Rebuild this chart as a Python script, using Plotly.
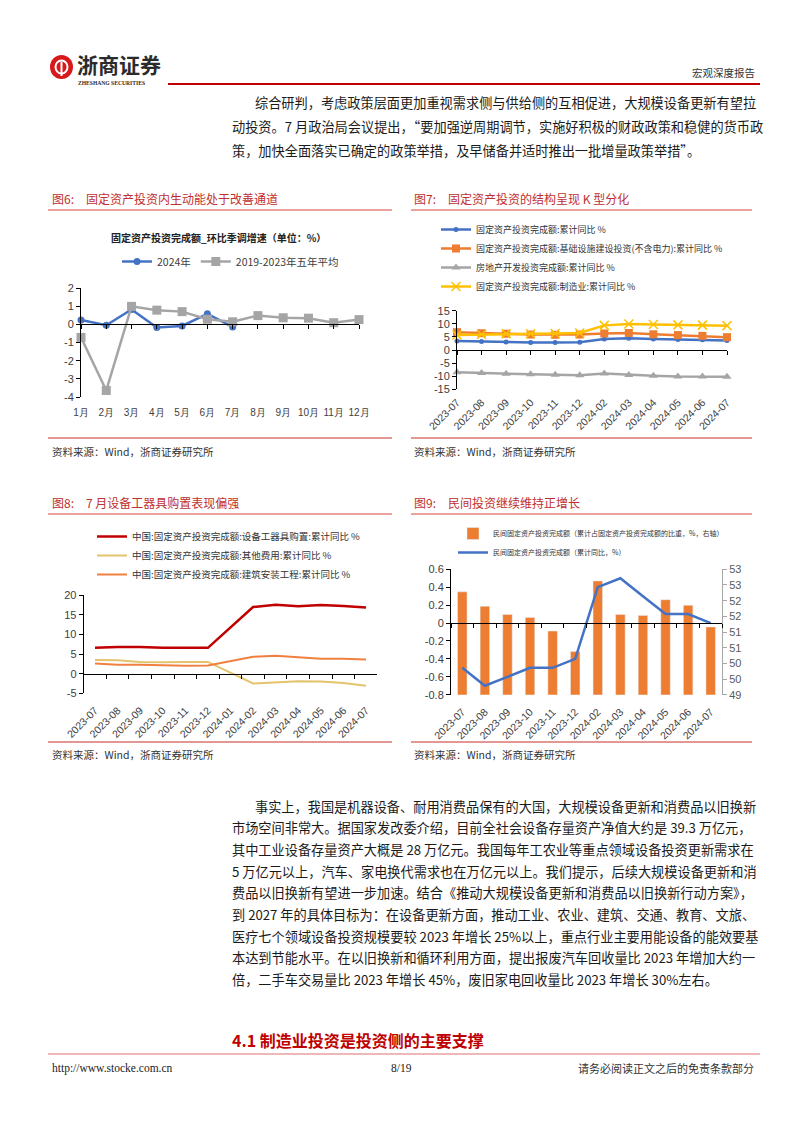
import plotly.graph_objects as go

W, H = 802, 1133
def fx(p): return p / W
def fy(p): return 1 - p / H

CN = "Noto Sans CJK SC"
NUM = "Liberation Sans, Arial, sans-serif"
SERIF = "Liberation Serif, serif"

# ---------------- data ----------------
months = ['1月', '2月', '3月', '4月', '5月', '6月', '7月', '8月', '9月', '10月', '11月', '12月']
fai_2024 = [0.24, -0.05, 0.82, -0.17, -0.09, 0.58, -0.14]
fai_avg5 = [-0.72, -3.64, 0.99, 0.78, 0.70, 0.28, 0.14, 0.48, 0.36, 0.34, 0.09, 0.26]
c6_yticks = [-4, -3, -2, -1, 0, 1, 2]

c7_dates = ['2023-07', '2023-08', '2023-09', '2023-10', '2023-11', '2023-12',
            '2024-02', '2024-03', '2024-04', '2024-05', '2024-06', '2024-07']
fai_total = [3.4, 3.2, 3.1, 2.9, 2.9, 3.0, 4.2, 4.5, 4.2, 4.0, 3.9, 3.6]
fai_infra = [6.8, 6.4, 6.2, 5.9, 5.8, 5.9, 6.3, 6.5, 6.0, 5.7, 5.4, 4.9]
fai_realestate = [-8.5, -8.8, -9.1, -9.3, -9.4, -9.6, -9.0, -9.5, -9.8, -10.1, -10.1, -10.2]
fai_manuf = [5.7, 5.9, 6.2, 6.2, 6.3, 6.5, 9.4, 9.9, 9.7, 9.6, 9.5, 9.3]
c7_yticks = [-15, -10, -5, 0, 5, 10, 15]

c8_dates = ['2023-07', '2023-08', '2023-09', '2023-10', '2023-11', '2023-12', '2024-01',
            '2024-02', '2024-03', '2024-04', '2024-05', '2024-06', '2024-07']
equip = [6.6, 6.8, 6.8, 6.6, 6.6, 6.6, None, 17.0, 17.6, 17.2, 17.5, 17.3, 16.9]
other_cost = [3.5, 3.4, 3.0, 2.9, 3.0, 3.0, None, -2.5, -2.2, -1.9, -2.0, -2.4, -3.1]
construct = [2.6, 2.3, 2.3, 2.1, 2.0, 2.1, None, 4.3, 4.6, 4.2, 3.8, 3.8, 3.6]
c8_yticks = [-5, 0, 5, 10, 15, 20]

c9_dates = c7_dates
private_share = [52.28, 51.82, 51.56, 51.46, 51.03, 50.38, 52.63, 51.56, 51.53, 52.03, 51.85, 51.16]
private_yoy = [-0.5, -0.7, -0.6, -0.5, -0.5, -0.4, 0.4, 0.5, 0.3, 0.1, 0.1, 0.0]
c9_yticks_left = [-0.8, -0.6, -0.4, -0.2, 0, 0.2, 0.4, 0.6]

def labels(vals):
    return [f"{round(v, 1):g}" for v in vals]

# ---------------- geometry ----------------
def zero_pos(ydom, yr):
    return ydom[0] + (0 - yr[0]) / (yr[1] - yr[0]) * (ydom[1] - ydom[0])

c6_xdom = [fx(81), fx(359)];   c6_ydom = [fy(397), fy(288)];   c6_yr = [-4, 2]
c7_xdom = [fx(457), fx(727)];  c7_ydom = [fy(389.3), fy(310.7)]; c7_yr = [-15, 15]
c8_xdom = [fx(83.7), fx(377.3)]; c8_ydom = [fy(693.3), fy(595.3)]; c8_yr = [-5, 20]
c9_xdom = [fx(451), fx(722)];  c9_ydom = [fy(694.7), fy(569.3)]; c9_yl = [-0.8, 0.6]; c9_yr = [49, 53]

fig = go.Figure()

# chart 6
fig.add_trace(go.Scatter(x=months[:len(fai_2024)], y=fai_2024, name='2024年', mode='lines+markers', cliponaxis=False,
                         line=dict(color='#4472C4', width=2.5), marker=dict(symbol='circle', size=7, color='#4472C4'),
                         xaxis='x', yaxis='y', legend='legend'))
fig.add_trace(go.Scatter(x=months, y=fai_avg5, name='2019-2023年五年平均', mode='lines+markers', cliponaxis=False,
                         line=dict(color='#A5A5A5', width=2.5), marker=dict(symbol='square', size=9, color='#A5A5A5'),
                         xaxis='x', yaxis='y', legend='legend'))
fig.add_trace(go.Scatter(x=months, y=[None] * len(months), xaxis='x2', yaxis='y', showlegend=False, hoverinfo='skip'))

# chart 7
fig.add_trace(go.Scatter(x=c7_dates, y=fai_total, name='固定资产投资完成额:累计同比 %', mode='lines+markers', cliponaxis=False,
                         line=dict(color='#4472C4', width=2.5), marker=dict(symbol='circle', size=5, color='#4472C4'),
                         xaxis='x3', yaxis='y3', legend='legend2'))
fig.add_trace(go.Scatter(x=c7_dates, y=fai_infra, name='固定资产投资完成额:基础设施建设投资(不含电力):累计同比 %', mode='lines+markers',
                         cliponaxis=False,
                         line=dict(color='#ED7D31', width=2.5), marker=dict(symbol='square', size=8, color='#ED7D31'),
                         xaxis='x3', yaxis='y3', legend='legend2'))
fig.add_trace(go.Scatter(x=c7_dates, y=fai_realestate, name='房地产开发投资完成额:累计同比 %', mode='lines+markers', cliponaxis=False,
                         line=dict(color='#A5A5A5', width=2.5), marker=dict(symbol='triangle-up', size=8, color='#A5A5A5'),
                         xaxis='x3', yaxis='y3', legend='legend2'))
fig.add_trace(go.Scatter(x=c7_dates, y=fai_manuf, name='固定资产投资完成额:制造业:累计同比 %', mode='lines+markers', cliponaxis=False,
                         line=dict(color='#FFC000', width=2.5),
                         marker=dict(symbol='x-thin', size=9, color='#FFC000', line=dict(width=1.5, color='#FFC000')),
                         xaxis='x3', yaxis='y3', legend='legend2'))
fig.add_trace(go.Scatter(x=c7_dates, y=[None] * len(c7_dates), xaxis='x4', yaxis='y3', showlegend=False, hoverinfo='skip'))

# chart 8
fig.add_trace(go.Scatter(x=c8_dates, y=equip, name='中国:固定资产投资完成额:设备工器具购置:累计同比 %', mode='lines',
                         connectgaps=True, line=dict(color='#C00000', width=2.5),
                         xaxis='x5', yaxis='y5', legend='legend3'))
fig.add_trace(go.Scatter(x=c8_dates, y=other_cost, name='中国:固定资产投资完成额:其他费用:累计同比 %', mode='lines',
                         connectgaps=True, line=dict(color='#E3C36B', width=2),
                         xaxis='x5', yaxis='y5', legend='legend3'))
fig.add_trace(go.Scatter(x=c8_dates, y=construct, name='中国:固定资产投资完成额:建筑安装工程:累计同比 %', mode='lines',
                         connectgaps=True, line=dict(color='#F08040', width=2),
                         xaxis='x5', yaxis='y5', legend='legend3'))
fig.add_trace(go.Scatter(x=c8_dates, y=[None] * len(c8_dates), xaxis='x6', yaxis='y5', showlegend=False, hoverinfo='skip'))

# chart 9
fig.add_trace(go.Bar(x=c9_dates, y=private_share, name='民间固定资产投资完成额（累计占固定资产投资完成额的比重，%，右轴）',
                     marker=dict(color='#ED7D31'), width=0.42, xaxis='x7', yaxis='y7', legend='legend4'))
fig.add_trace(go.Scatter(x=c9_dates, y=private_yoy, name='民间固定资产投资完成额（累计同比，%）', mode='lines',
                         line=dict(color='#4472C4', width=2.5), xaxis='x7', yaxis='y8', legend='legend4'))
fig.add_trace(go.Scatter(x=c9_dates, y=[None] * len(c9_dates), xaxis='x8', yaxis='y8', showlegend=False, hoverinfo='skip'))

# ---------------- axes ----------------
tickf = dict(family=NUM, size=11, color='#404040')
def cat_x(dom, cats, rng, anchor, angle=0, standoff=5, size=10.5):
    return dict(domain=dom, type='category', categoryorder='array', categoryarray=cats, range=rng,
                anchor=anchor, showline=False, showgrid=False, zeroline=False, automargin=False,
                ticks='outside', ticklen=standoff, tickcolor='rgba(0,0,0,0)',
                tickangle=angle, tickfont=dict(family=NUM, size=size, color='#404040'), fixedrange=True)

def zero_x(over, cats, rng, pos, boundaries=False):
    d = dict(overlaying=over, anchor='free', position=pos, type='category', categoryorder='array',
             categoryarray=cats, range=rng, showline=True, linecolor='#000000', linewidth=1,
             ticks='outside', ticklen=4, tickcolor='#000000', showticklabels=False,
             showgrid=False, zeroline=False, automargin=False)
    if boundaries:
        d['tickson'] = 'boundaries'
    return d

def val_y(dom, rng, ticks, anchor, **kw):
    d = dict(domain=dom, range=rng, tickmode='array', tickvals=ticks, ticktext=labels(ticks), anchor=anchor,
             showline=True, linecolor='#000000', automargin=False,
             linewidth=1, ticks='outside', ticklen=4, tickcolor='#000000', showgrid=False,
             zeroline=False, tickfont=tickf)
    d.update(kw)
    return d

layout = dict(
    width=W, height=H, margin=dict(l=0, r=0, t=0, b=0, autoexpand=False),
    paper_bgcolor='white', plot_bgcolor='white', showlegend=True,
    xaxis=cat_x(c6_xdom, months, [0, 11], 'y', 0, 6, 10),
    yaxis=val_y(c6_ydom, c6_yr, c6_yticks, 'x'),
    xaxis2=zero_x('x', months, [0, 11], zero_pos(c6_ydom, c6_yr)),
    xaxis3=cat_x(c7_xdom, c7_dates, [0, 11], 'y3', -45, 2),
    yaxis3=val_y(c7_ydom, c7_yr, c7_yticks, 'x3'),
    xaxis4=zero_x('x3', c7_dates, [0, 11], zero_pos(c7_ydom, c7_yr)),
    xaxis5=cat_x(c8_xdom, c8_dates, [-0.5, 12.5], 'y5', -45, 6),
    yaxis5=val_y(c8_ydom, c8_yr, c8_yticks, 'x5'),
    xaxis6=zero_x('x5', c8_dates, [-0.5, 12.5], zero_pos(c8_ydom, c8_yr), True),
    xaxis7=cat_x(c9_xdom, c9_dates, [-0.5, 11.5], 'y7', -45, 6),
    yaxis7=dict(domain=c9_ydom, range=c9_yr, dtick=0.5, tickformat='.0f', anchor='x7', side='right',
                showline=True, linecolor='#A6A6A6', linewidth=1, ticks='outside', ticklen=4, automargin=False,
                tickcolor='#A6A6A6', showgrid=False, zeroline=False,
                tickfont=dict(family=NUM, size=11, color='#595959')),
    yaxis8=val_y(c9_ydom, c9_yl, c9_yticks_left, 'x7', overlaying='y7', side='left'),
    xaxis8=zero_x('x7', c9_dates, [-0.5, 11.5], zero_pos(c9_ydom, c9_yl), True),
    legend=dict(orientation='h', x=fx(117), y=fy(247), xanchor='left', yanchor='top',
                font=dict(family=CN, size=10.5, color='#404040'), bgcolor='rgba(0,0,0,0)', itemwidth=30),
    legend2=dict(orientation='v', x=fx(436), y=fy(215), xanchor='left', yanchor='top',
                 font=dict(family=CN, size=9, color='#333333'), bgcolor='rgba(0,0,0,0)', itemwidth=30),
    legend3=dict(orientation='v', x=fx(92), y=fy(522), xanchor='left', yanchor='top',
                 font=dict(family=CN, size=9.5, color='#333333'), bgcolor='rgba(0,0,0,0)', itemwidth=30),
    legend4=dict(orientation='v', x=fx(453), y=fy(519), xanchor='left', yanchor='top',
                 font=dict(family=CN, size=7, color='#333333'), bgcolor='rgba(0,0,0,0)', itemwidth=30,
                 tracegroupgap=0),
)
fig.update_layout(**layout)

# ---------------- page decoration ----------------
shapes = []
def hline(x0, x1, y, color, width):
    shapes.append(dict(type='line', xref='paper', yref='paper', x0=fx(x0), x1=fx(x1), y0=fy(y), y1=fy(y),
                       line=dict(color=color, width=width)))

hline(168, 760, 84, '#C00000', 2)
for yy in (210, 514):
    hline(48, 392, yy, '#D9443F', 1)
    hline(411, 752, yy, '#D9443F', 1)
for yy in (438, 742):
    hline(48, 392, yy, '#C8302C', 1)
    hline(411, 752, yy, '#C8302C', 1)
hline(48, 760, 1054, '#E9A1A1', 1.5)
# logo emblem
shapes.append(dict(type='circle', xref='paper', yref='paper', x0=fx(50), x1=fx(73), y0=fy(79), y1=fy(55),
                   fillcolor='#D7191C', line=dict(width=0)))
shapes.append(dict(type='circle', xref='paper', yref='paper', x0=fx(55.5), x1=fx(67.5), y0=fy(73.5), y1=fy(60.5),
                   fillcolor='rgba(0,0,0,0)', line=dict(color='white', width=2)))
shapes.append(dict(type='line', xref='paper', yref='paper', x0=fx(61.5), x1=fx(61.5), y0=fy(76), y1=fy(62),
                   line=dict(color='white', width=2)))
fig.update_layout(shapes=shapes)

ann = []
def txt(x, y, s, size, color='#222222', family=CN, anchor='left'):
    ann.append(dict(text=s, x=fx(x), y=fy(y), xref='paper', yref='paper', xanchor=anchor, yanchor='middle',
                    showarrow=False, font=dict(family=family, size=size, color=color)))

txt(75, 64, '<b>浙商证券</b>', 21, '#2B2B2B')
txt(76, 83, '<b>ZHESHANG SECURITIES</b>', 5.6, '#2B2B2B', SERIF)
txt(757, 72, '宏观深度报告', 10.5, '#333333', CN, 'right')

para1 = [
    '综合研判，考虑政策层面更加重视需求侧与供给侧的互相促进，大规模设备更新有望拉',
    '动投资。7 月政治局会议提出，“要加强逆周期调节，实施好积极的财政政策和稳健的货币政',
    '策，加快全面落实已确定的政策举措，及早储备并适时推出一批增量政策举措”。',
]
for i, s in enumerate(para1):
    txt(253 if i == 0 else 230, 102 + i * 24.5, s, 13.2, '#1A1A1A')

RED = '#C0302F'
txt(50, 198, '图6:', 12, RED)
txt(84, 198, '固定资产投资内生动能处于改善通道', 12, RED)
txt(412, 198, '图7:', 12, RED)
txt(446, 198, '固定资产投资的结构呈现 K 型分化', 12, RED)
txt(50, 503, '图8:', 12, RED)
txt(84, 503, '7 月设备工器具购置表现偏强', 12, RED)
txt(412, 503, '图9:', 12, RED)
txt(446, 503, '民间投资继续维持正增长', 12, RED)

txt(218, 238, '<b>固定资产投资完成额_环比季调增速（单位：%）</b>', 10, '#222222', CN, 'center')

for x0, y0 in ((50, 451), (412, 451), (50, 754), (412, 754)):
    txt(x0, y0, '资料来源：Wind，浙商证券研究所', 10.5, '#333333')

para2 = [
    '事实上，我国是机器设备、耐用消费品保有的大国，大规模设备更新和消费品以旧换新',
    '市场空间非常大。据国家发改委介绍，目前全社会设备存量资产净值大约是 39.3 万亿元，',
    '其中工业设备存量资产大概是 28 万亿元。我国每年工农业等重点领域设备投资更新需求在',
    '5 万亿元以上，汽车、家电换代需求也在万亿元以上。我们提示，后续大规模设备更新和消',
    '费品以旧换新有望进一步加速。结合《推动大规模设备更新和消费品以旧换新行动方案》，',
    '到 2027 年的具体目标为：在设备更新方面，推动工业、农业、建筑、交通、教育、文旅、',
    '医疗七个领域设备投资规模要较 2023 年增长 25%以上，重点行业主要用能设备的能效要基',
    '本达到节能水平。在以旧换新和循环利用方面，提出报废汽车回收量比 2023 年增加大约一',
    '倍，二手车交易量比 2023 年增长 45%，废旧家电回收量比 2023 年增长 30%左右。',
]
for i, s in enumerate(para2):
    txt(253 if i == 0 else 230, 806 + i * 21.7, s, 13.2, '#1A1A1A')

txt(230, 1040, '<b>4.1 制造业投资是投资侧的主要支撑</b>', 16, '#C00000')
txt(50, 1068, 'http://www.stocke.com.cn', 11.5, '#222222', SERIF)
txt(401, 1068, '8/19', 11.5, '#222222', SERIF, 'center')
txt(756, 1068, '请务必阅读正文之后的免责条款部分', 11, '#333333', CN, 'right')

fig.update_layout(annotations=ann)
fig.write_html('out.html')
